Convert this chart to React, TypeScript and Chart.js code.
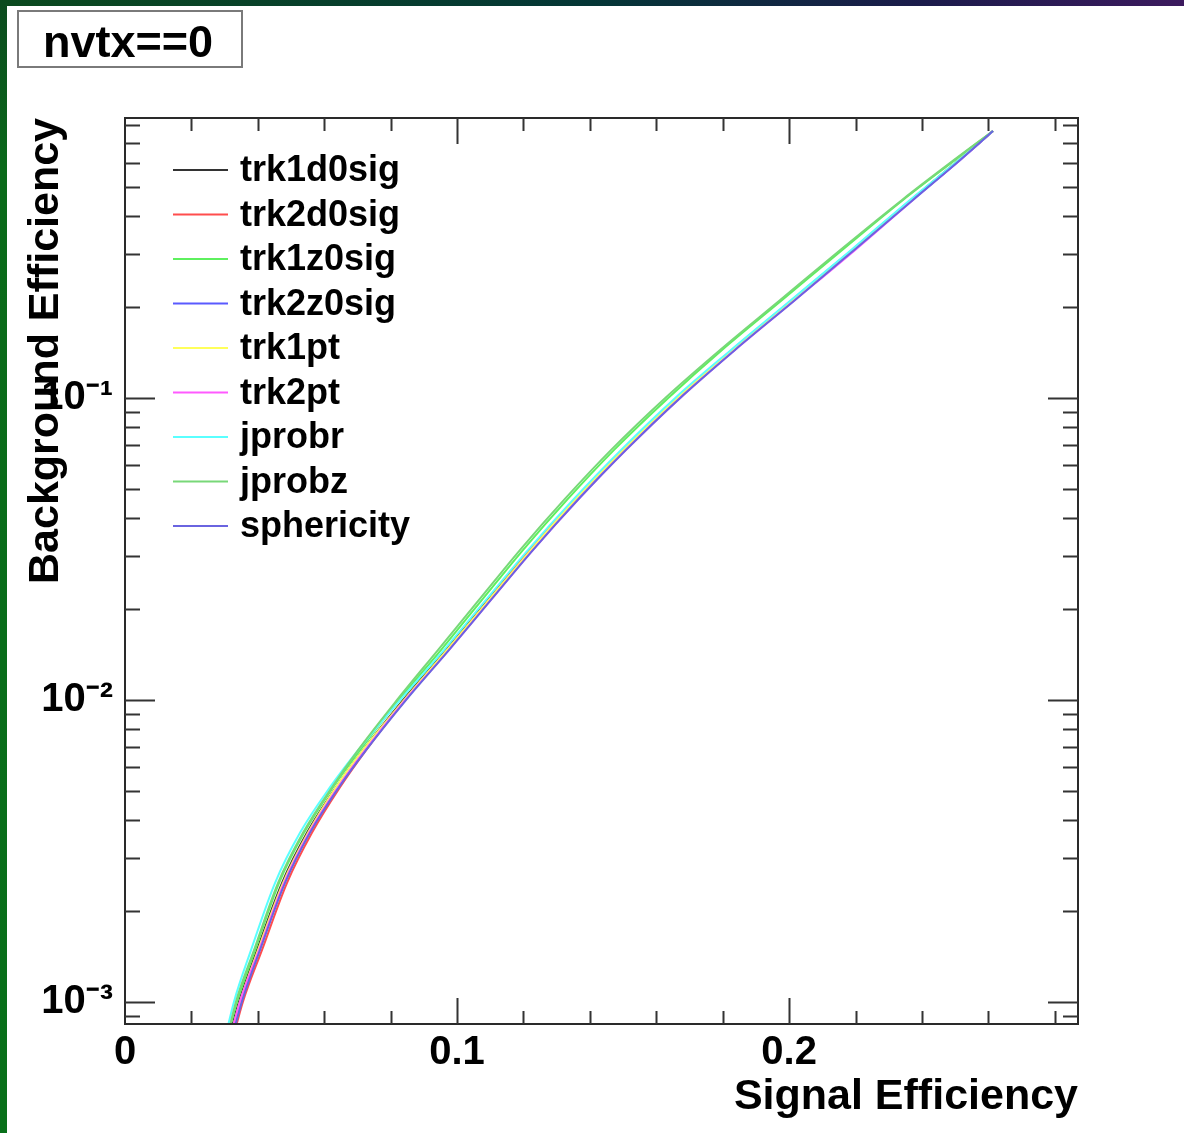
import React, { useEffect, useRef } from 'react';
import { Chart, registerables } from 'chart.js';

Chart.register(...registerables);

// ---------- data ----------
// background efficiency levels (y) shared by all curves
const bkgEff = [0.00078, 0.0010, 0.00149, 0.00248, 0.00363, 0.00515, 0.00682, 0.0098, 0.01465, 0.02143, 0.0314, 0.04595, 0.06729, 0.1, 0.1442, 0.211, 0.309, 0.4525, 0.614, 0.765];

// signal efficiency (x) of each variable at those background levels
const trk1d0sig = [0.0316, 0.0343, 0.0398, 0.0473, 0.0548, 0.0636, 0.0717, 0.0831, 0.0967, 0.1093, 0.1220, 0.1355, 0.1500, 0.1663, 0.1828, 0.2009, 0.2190, 0.2367, 0.2512, 0.2614];
const trk2d0sig = [0.0328, 0.0355, 0.0413, 0.0488, 0.0563, 0.0648, 0.0726, 0.0837, 0.0970, 0.1096, 0.1220, 0.1355, 0.1500, 0.1666, 0.1831, 0.2012, 0.2190, 0.2367, 0.2512, 0.2614];
const trk1z0sig = [0.0310, 0.0337, 0.0392, 0.0464, 0.0539, 0.0627, 0.0708, 0.0819, 0.0952, 0.1075, 0.1199, 0.1331, 0.1473, 0.1636, 0.1798, 0.1979, 0.2160, 0.2343, 0.2500, 0.2614];
const trk2z0sig = [0.0322, 0.0349, 0.0404, 0.0479, 0.0554, 0.0642, 0.0723, 0.0837, 0.0973, 0.1099, 0.1226, 0.1361, 0.1506, 0.1669, 0.1834, 0.2015, 0.2196, 0.2370, 0.2515, 0.2614];
const trk1pt = [0.0319, 0.0346, 0.0401, 0.0476, 0.0551, 0.0636, 0.0717, 0.0834, 0.0970, 0.1096, 0.1223, 0.1355, 0.1500, 0.1663, 0.1831, 0.2012, 0.2190, 0.2367, 0.2512, 0.2614];
const trk2pt = [0.0319, 0.0346, 0.0404, 0.0479, 0.0554, 0.0642, 0.0723, 0.0837, 0.0976, 0.1102, 0.1229, 0.1364, 0.1509, 0.1672, 0.1837, 0.2018, 0.2199, 0.2373, 0.2515, 0.2614];
const jprobr = [0.0304, 0.0328, 0.0380, 0.0452, 0.0527, 0.0618, 0.0702, 0.0822, 0.0961, 0.1087, 0.1214, 0.1349, 0.1494, 0.1657, 0.1825, 0.2006, 0.2187, 0.2364, 0.2512, 0.2614];
const jprobz = [0.0310, 0.0334, 0.0389, 0.0461, 0.0536, 0.0624, 0.0702, 0.0813, 0.0943, 0.1066, 0.1190, 0.1322, 0.1464, 0.1627, 0.1792, 0.1973, 0.2154, 0.2340, 0.2497, 0.2614];
const sphericity = [0.0325, 0.0352, 0.0407, 0.0482, 0.0557, 0.0645, 0.0726, 0.0840, 0.0976, 0.1102, 0.1229, 0.1364, 0.1509, 0.1672, 0.1837, 0.2018, 0.2196, 0.2373, 0.2515, 0.2614];

const seriesNames = ['trk1d0sig', 'trk2d0sig', 'trk1z0sig', 'trk2z0sig', 'trk1pt', 'trk2pt', 'jprobr', 'jprobz', 'sphericity'];
const seriesValues = [trk1d0sig, trk2d0sig, trk1z0sig, trk2z0sig, trk1pt, trk2pt, jprobr, jprobz, sphericity];
const seriesColors = ['#333333', '#ff4d4d', '#5ef05e', '#5a5aff', '#ffff5a', '#ff5aff', '#5affff', '#78d878', '#6a64e0'];

const xMajorTicks = [0, 0.1, 0.2];
const xTickLabels = ['0', '0.1', '0.2'];
const yMajorTicks = [0.001, 0.01, 0.1];
const yTickLabels = ['10\u207B\u00B3', '10\u207B\u00B2', '10\u207B\u00B9'];

const titleText = 'nvtx==0';
const xTitle = 'Signal Efficiency';
const yTitle = 'Background Efficiency';

const FONT = '"Liberation Sans", Arial, Helvetica, sans-serif';

const rootPlugin = {
  id: 'rootStyle',
  beforeDraw(chart: any) {
    const { ctx, width, height } = chart;
    ctx.save();
    ctx.fillStyle = '#ffffff';
    ctx.fillRect(0, 0, width, height);
    const gt = ctx.createLinearGradient(0, 0, width, 0);
    gt.addColorStop(0, '#0b4a1e');
    gt.addColorStop(0.5, '#043636');
    gt.addColorStop(0.78, '#1b1b4b');
    gt.addColorStop(1, '#3c1a5e');
    ctx.fillStyle = gt;
    ctx.fillRect(0, 0, width, 6);
    const gl = ctx.createLinearGradient(0, 0, 0, height);
    gl.addColorStop(0, '#0b4a1e');
    gl.addColorStop(0.15, '#0a6a1a');
    gl.addColorStop(1, '#08701a');
    ctx.fillStyle = gl;
    ctx.fillRect(0, 0, 7, height);
    ctx.restore();
  },
  afterDatasetsDraw(chart: any) {
    const { ctx, chartArea: a } = chart;
    const xs = chart.scales.x;
    const ys = chart.scales.y;
    ctx.save();
    ctx.strokeStyle = '#2a2a2a';
    ctx.lineWidth = 2;
    ctx.strokeRect(a.left, a.top, a.right - a.left, a.bottom - a.top);
    ctx.strokeStyle = '#333333';
    ctx.lineWidth = 2;
    ctx.beginPath();
    // x ticks (inside, bottom and top)
    for (let i = 1; i <= 14; i++) {
      const v = i * 0.02;
      if (v > xs.max) break;
      const px = Math.round(xs.getPixelForValue(v)) + 0.5;
      const len = i % 5 === 0 ? 26 : 13;
      ctx.moveTo(px, a.bottom);
      ctx.lineTo(px, a.bottom - len);
      ctx.moveTo(px, a.top);
      ctx.lineTo(px, a.top + len);
    }
    // y ticks (inside, left and right)
    for (let e = -4; e <= 0; e++) {
      for (let m = 1; m <= 9; m++) {
        const v = m * Math.pow(10, e);
        if (v < ys.min || v > ys.max) continue;
        const py = Math.round(ys.getPixelForValue(v)) + 0.5;
        const len = m === 1 ? 30 : 15;
        ctx.moveTo(a.left, py);
        ctx.lineTo(a.left + len, py);
        ctx.moveTo(a.right, py);
        ctx.lineTo(a.right - len, py);
      }
    }
    ctx.stroke();
    ctx.restore();
  },
  afterDraw(chart: any) {
    const { ctx } = chart;
    ctx.save();
    // title box
    ctx.fillStyle = '#ffffff';
    ctx.fillRect(18, 11, 224, 56);
    ctx.strokeStyle = '#7a7a7a';
    ctx.lineWidth = 2;
    ctx.strokeRect(18, 11, 224, 56);
    ctx.fillStyle = '#000000';
    ctx.font = `bold 45px ${FONT}`;
    ctx.textAlign = 'center';
    ctx.textBaseline = 'alphabetic';
    ctx.fillText(titleText, 128, 57);
    // legend
    const ds = chart.data.datasets;
    ctx.font = `bold 36px ${FONT}`;
    ctx.textAlign = 'left';
    for (let i = 0; i < ds.length; i++) {
      const y = 170 + i * 44.5;
      ctx.strokeStyle = ds[i].borderColor;
      ctx.lineWidth = 2;
      ctx.beginPath();
      ctx.moveTo(173, y);
      ctx.lineTo(228, y);
      ctx.stroke();
      ctx.fillStyle = '#000000';
      ctx.fillText(ds[i].label, 240, y + 11);
    }
    ctx.restore();
  },
};

export default function App() {
  const canvasRef = useRef<HTMLCanvasElement | null>(null);

  useEffect(() => {
    if (!canvasRef.current) return;
    const n = seriesNames.length;
    const datasets = seriesNames.map((name, i) => ({
      label: name,
      data: bkgEff.map((b, j) => ({ x: seriesValues[i][j], y: b })),
      borderColor: seriesColors[i],
      backgroundColor: seriesColors[i],
      borderWidth: 2,
      pointRadius: 0,
      fill: false,
      cubicInterpolationMode: 'monotone' as const,
      order: n - 1 - i,
    }));

    const chart = new Chart(canvasRef.current, {
      type: 'line',
      data: { datasets },
      options: {
        animation: false,
        responsive: false,
        devicePixelRatio: 1,
        events: [],
        layout: { padding: { left: 0, top: 118, right: 106, bottom: 0 } },
        plugins: {
          legend: { display: false },
          tooltip: { enabled: false },
          title: { display: false },
        },
        scales: {
          x: {
            type: 'linear',
            min: 0,
            max: 0.287,
            grid: { display: false, drawTicks: false },
            border: { display: false },
            afterBuildTicks: (s: any) => {
              s.ticks = xMajorTicks.map((v) => ({ value: v }));
            },
            afterFit: (s: any) => {
              s.height = 109;
            },
            ticks: {
              autoSkip: false,
              maxRotation: 0,
              padding: 5,
              color: '#000000',
              font: { family: FONT, size: 40, weight: 'bold' },
              callback: (v: any) => {
                const k = xMajorTicks.findIndex((t) => Math.abs(t - Number(v)) < 1e-9);
                return k >= 0 ? xTickLabels[k] : '';
              },
            },
            title: {
              display: true,
              text: xTitle,
              align: 'end',
              color: '#000000',
              font: { family: FONT, size: 43, weight: 'bold', lineHeight: 1.2 },
              padding: { top: 0, bottom: 10 },
            },
          },
          y: {
            type: 'logarithmic',
            min: 0.000845,
            max: 0.845,
            grid: { display: false, drawTicks: false },
            border: { display: false },
            afterBuildTicks: (s: any) => {
              s.ticks = yMajorTicks.map((v) => ({ value: v }));
            },
            afterFit: (s: any) => {
              s.width = 125;
            },
            ticks: {
              autoSkip: false,
              padding: 12,
              color: '#000000',
              font: { family: FONT, size: 40, weight: 'bold' },
              callback: (v: any) => {
                const k = yMajorTicks.findIndex((t) => Math.abs(t - Number(v)) / t < 1e-6);
                return k >= 0 ? yTickLabels[k] : '';
              },
            },
            title: {
              display: true,
              text: yTitle,
              align: 'end',
              color: '#000000',
              font: { family: FONT, size: 43, weight: 'bold', lineHeight: 1.2 },
              padding: { top: 20, bottom: 0 },
            },
          },
        },
      },
      plugins: [rootPlugin],
    } as any);

    return () => chart.destroy();
  }, []);

  return (
    <div style={{ position: 'fixed', left: 0, top: 0, width: 1184, height: 1133, background: '#ffffff' }}>
      <canvas ref={canvasRef} width={1184} height={1133} style={{ display: 'block', width: 1184, height: 1133 }} />
    </div>
  );
}
